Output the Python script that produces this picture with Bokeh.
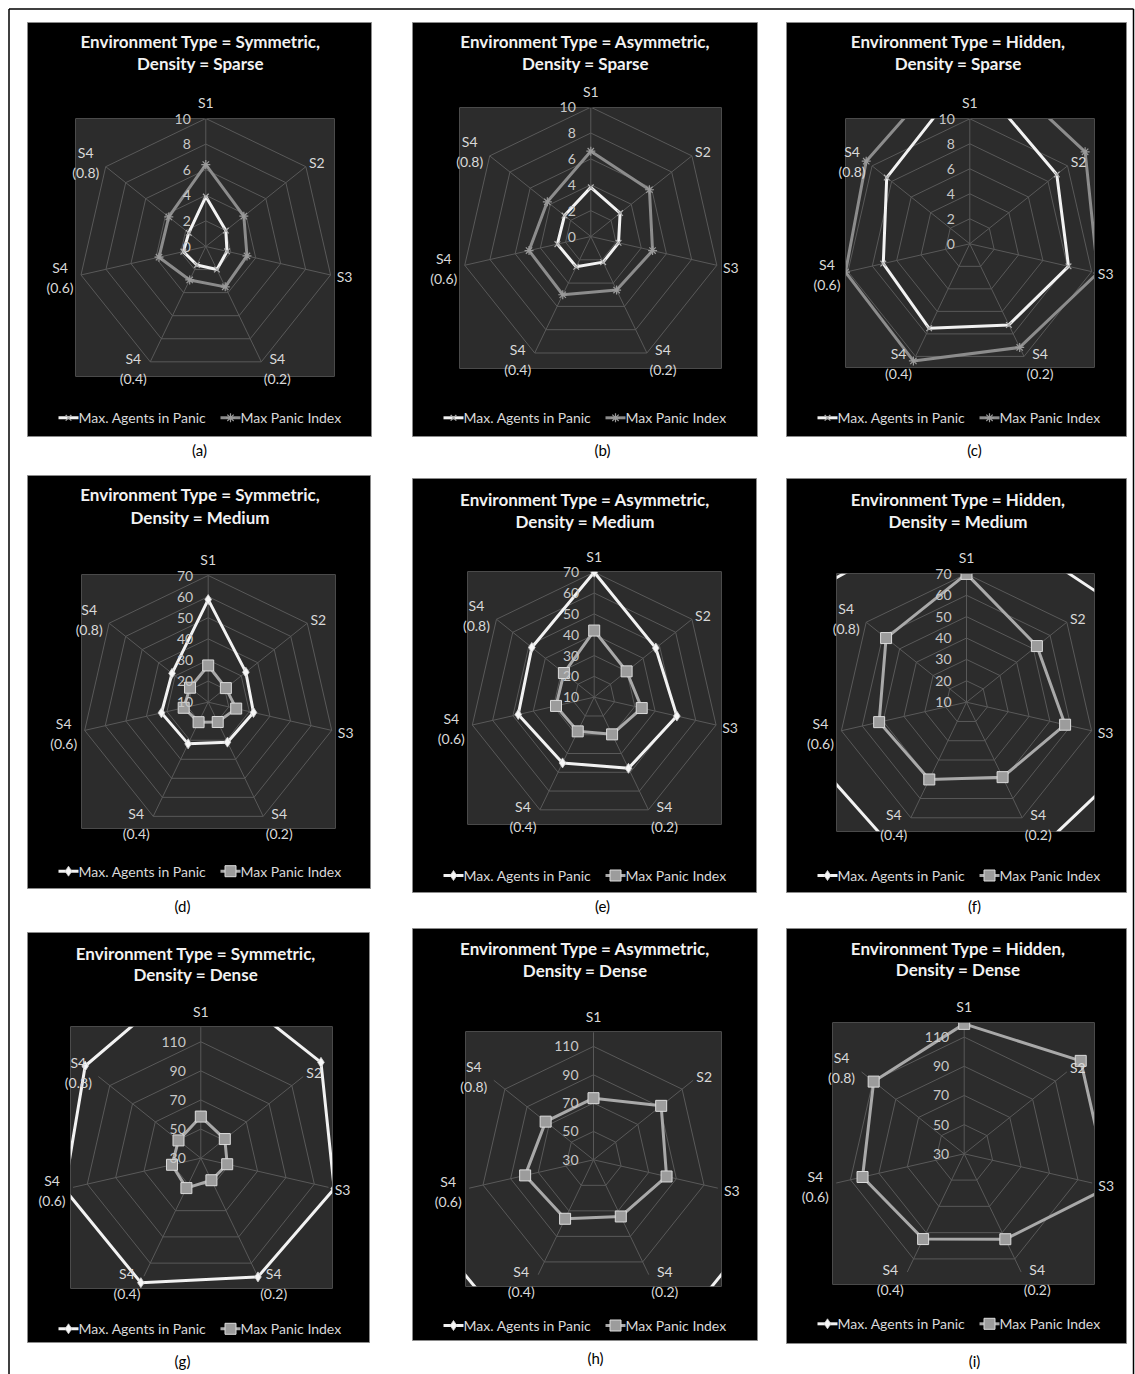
import math
from bokeh.plotting import figure
from bokeh.models import Range1d
from bokeh.core.properties import value
from bokeh.embed import file_html
from bokeh.resources import INLINE

# ---------------- data ----------------
categories_top = ["S1", "S2", "S3", "S4", "S4", "S4", "S4"]
categories_bottom = ["", "", "", "(0.2)", "(0.4)", "(0.6)", "(0.8)"]
environment_types = ["Symmetric", "Asymmetric", "Hidden"]
densities = ["Sparse", "Medium", "Dense"]
series_names = ["Max. Agents in Panic", "Max Panic Index"]
captions = ["(a)", "(b)", "(c)", "(d)", "(e)", "(f)", "(g)", "(h)", "(i)"]

# radial axis per density row
radial_min = [0, 10, 30]
radial_max = [10, 70, 120]
radial_step = [2, 10, 20]

agents_symmetric_sparse = [3.9, 2.0, 1.7, 2.0, 1.6, 1.8, 1.7]
panic_symmetric_sparse = [6.4, 3.8, 3.3, 3.5, 2.9, 3.75, 3.7]
agents_asymmetric_sparse = [3.8, 2.9, 2.2, 2.2, 2.6, 2.65, 2.6]
panic_asymmetric_sparse = [6.6, 5.8, 4.9, 4.6, 5.0, 4.9, 4.3]
agents_hidden_sparse = [13.75, 8.9, 8.1, 7.2, 7.5, 7.1, 8.5]
panic_hidden_sparse = [16.0, 11.8, 10.5, 9.2, 10.4, 10.2, 10.6]

agents_symmetric_medium = [58.6, 32.8, 32.0, 31.0, 31.9, 32.7, 31.9]
panic_symmetric_medium = [27.4, 20.7, 23.6, 20.4, 20.5, 21.9, 21.0]
agents_asymmetric_medium = [70.0, 47.8, 50.7, 47.9, 45.0, 47.4, 48.3]
panic_asymmetric_medium = [42.0, 29.9, 33.4, 29.8, 28.2, 28.8, 28.6]
agents_hidden_medium = [102.0, 90.5, 98.0, 87.0, 87.0, 91.0, 97.0]
panic_hidden_medium = [70.0, 52.1, 57.3, 48.9, 50.1, 51.9, 58.1]

agents_symmetric_dense = [161.0, 135.6, 124.0, 120.5, 124.9, 126.0, 131.6]
panic_symmetric_dense = [58.6, 51.1, 48.6, 46.8, 52.8, 50.3, 49.6]
agents_asymmetric_dense = [175.0, 172.0, 165.0, 164.0, 164.0, 166.0, 172.0]
panic_asymmetric_dense = [73.5, 91.1, 82.9, 74.4, 76.2, 79.5, 73.2]
agents_hidden_dense = [190.0, 185.0, 182.0, 180.0, 180.0, 183.0, 186.0]
panic_hidden_dense = [119.1, 132.2, 132.0, 95.0, 94.9, 101.5, 109.4]

agents = [agents_symmetric_sparse, agents_asymmetric_sparse, agents_hidden_sparse,
          agents_symmetric_medium, agents_asymmetric_medium, agents_hidden_medium,
          agents_symmetric_dense, agents_asymmetric_dense, agents_hidden_dense]
panic = [panic_symmetric_sparse, panic_asymmetric_sparse, panic_hidden_sparse,
         panic_symmetric_medium, panic_asymmetric_medium, panic_hidden_medium,
         panic_symmetric_dense, panic_asymmetric_dense, panic_hidden_dense]

# ---------------- layout (page pixels) ----------------
panel_box = [(27, 371, 22, 436), (412, 757, 22, 436), (786, 1126, 22, 436),
             (27, 370, 475, 888), (412, 756, 478, 892), (786, 1126, 478, 892),
             (27, 369, 932, 1342), (412, 757, 928, 1340), (786, 1126, 928, 1343)]
plot_box = [(75, 334, 118, 376), (459, 721, 107, 368), (845, 1094, 118, 367),
            (81, 335, 574, 828), (467, 721, 571, 824), (836, 1094, 573, 831),
            (70, 332, 1026, 1288), (465, 721, 1031, 1286), (832, 1094, 1022, 1284)]
radar_geom = [(205.3, 246.0, 128.0), (590.3, 236.0, 129.3), (969.3, 243.3, 125.0),
              (207.7, 701.7, 126.7), (593.7, 696.7, 125.0), (966.0, 701.7, 128.3),
              (200.3, 1157.7, 131.0), (593.0, 1159.3, 127.5), (963.7, 1153.3, 131.25)]
title_x = [200, 585, 957.7, 199.7, 584.7, 957.7, 195.3, 584.7, 957.7]
title_y = [(41, 63), (41, 63.3), (41, 63.3), (494.3, 516.7), (499, 520.7), (499, 520.7),
           (952.7, 974.3), (948.3, 970), (948.3, 969.3)]
legend_y = [417.3, 417.3, 417.3, 870.7, 875, 875, 1328.3, 1325, 1323.3]
caption_xy = [(199, 449), (602, 449), (974, 449), (182, 905), (602, 905), (974, 905),
              (182, 1360), (595, 1357), (974, 1360)]
label_offset = [(0, -16), (11, -4), (14, 2), (16, 7), (-17, 7), (-21, 3), (-20, -4)]

FONT = value("Lato")
PLOT_BG = "#2c2c2c"
GRID = "#595959"
WHITE_S = "#f2f2f2"
GRAY_S = "#8c8c8c"
GRAY_S2 = "#a9a9a9"

N = len(categories_top)
W, H = 1135, 1374


def to_xy(geom, vmin, vmax, vals):
    cx, cy, R = geom
    xs, ys = [], []
    for k, v in enumerate(vals):
        th = 2 * math.pi * k / N
        r = (v - vmin) / (vmax - vmin) * R
        xs.append(cx + r * math.sin(th))
        ys.append(cy - r * math.cos(th))
    return xs, ys


p = figure(width=W, height=H, x_range=Range1d(0, W), y_range=Range1d(H, 0),
           x_axis_type=None, y_axis_type=None, output_backend="svg", toolbar_location=None,
           min_border=0, background_fill_color="white", border_fill_color="white",
           outline_line_color=None)

# plot areas
p.quad(left=[b[0] for b in plot_box], right=[b[1] for b in plot_box],
       top=[b[2] for b in plot_box], bottom=[b[3] for b in plot_box],
       fill_color=PLOT_BG, line_color=None)

ring_xs, ring_ys, spoke_xs, spoke_ys = [], [], [], []
tick_x, tick_y, tick_t = [], [], []
for i in range(9):
    row = i // 3
    vmin, vmax, step = radial_min[row], radial_max[row], radial_step[row]
    cx, cy, R = radar_geom[i]
    v = vmin
    while v <= vmax + 1e-9:
        if v > vmin:
            xs, ys = to_xy(radar_geom[i], vmin, vmax, [v] * N)
            ring_xs.append(xs + [xs[0]])
            ring_ys.append(ys + [ys[0]])
        tx, ty = to_xy(radar_geom[i], vmin, vmax, [v])
        tick_x.append(tx[0] - 15)
        tick_y.append(ty[0])
        tick_t.append(str(v))
        v += step
    ox, oy = to_xy(radar_geom[i], vmin, vmax, [vmax] * N)
    for k in range(N):
        spoke_xs.append([cx, ox[k]])
        spoke_ys.append([cy, oy[k]])

p.multi_line(ring_xs, ring_ys, line_color=GRID, line_width=1)
p.multi_line(spoke_xs, spoke_ys, line_color=GRID, line_width=1)

# series
for i in range(9):
    row = i // 3
    vmin, vmax = radial_min[row], radial_max[row]
    ax, ay = to_xy(radar_geom[i], vmin, vmax, agents[i])
    px, py = to_xy(radar_geom[i], vmin, vmax, panic[i])
    if row == 0:
        p.line(px + [px[0]], py + [py[0]], line_color=GRAY_S, line_width=3)
        p.scatter(px, py, marker="asterisk", size=9, line_color="#9a9a9a", line_width=1.2)
        p.line(ax + [ax[0]], ay + [ay[0]], line_color=WHITE_S, line_width=3)
        p.scatter(ax, ay, marker="x", size=8, line_color="#b0b0b0", line_width=1.2)
    else:
        p.line(px + [px[0]], py + [py[0]], line_color=GRAY_S2, line_width=3)
        p.scatter(px, py, marker="square", size=11, fill_color="#9c9c9c",
                  line_color="#dcdcdc", line_width=1)
        p.line(ax + [ax[0]], ay + [ay[0]], line_color=WHITE_S, line_width=3)
        p.scatter(ax, ay, marker="diamond", size=10, fill_color="#f7f7f7",
                  line_color="#cfcfcf", line_width=0.8)


def rect_ring(b, cw=True):
    l, r, t, bo = b
    if cw:
        return [l, r, r, l], [t, t, bo, bo]
    return [l, l, r, r], [t, bo, bo, t]


# masks: page (white) with panel holes, panels (black) with plot-area holes
page_x, page_y = rect_ring((-5, W + 5, -5, H + 5))
mx, my = [page_x], [page_y]
for b in panel_box:
    hx, hy = rect_ring(b, cw=False)
    mx.append(hx)
    my.append(hy)
p.multi_polygons(xs=[[mx]], ys=[[my]], fill_color="white", line_color=None)

pxs, pys = [], []
for b, q in zip(panel_box, plot_box):
    ex, ey = rect_ring(b)
    hx, hy = rect_ring(q, cw=False)
    pxs.append([[ex, hx]])
    pys.append([[ey, hy]])
p.multi_polygons(xs=pxs, ys=pys, fill_color="black", line_color=None)

p.quad(left=[b[0] for b in panel_box], right=[b[1] for b in panel_box],
       top=[b[2] for b in panel_box], bottom=[b[3] for b in panel_box],
       fill_color=None, line_color="#8a8a8a", line_width=1)

# radial tick labels (drawn above the masks so the top value is not cut)
p.text(tick_x, tick_y, text=tick_t, text_font=FONT, text_font_size="14px",
       text_color="#c8c8c8", text_align="right", text_baseline="middle")

# titles
t_x, t_y, t_t = [], [], []
for i in range(9):
    row, col = i // 3, i % 3
    t_x += [title_x[i], title_x[i]]
    t_y += [title_y[i][0], title_y[i][1]]
    t_t += ["Environment Type = %s," % environment_types[col], "Density = %s" % densities[row]]
p.text(t_x, t_y, text=t_t, text_font=FONT, text_font_style="bold", text_font_size="17px",
       text_color="#f2f2f2", text_align="center", text_baseline="middle")

# category labels
c_x, c_y, c_t = [], [], []
for i in range(9):
    row = i // 3
    vmin, vmax = radial_min[row], radial_max[row]
    ox, oy = to_xy(radar_geom[i], vmin, vmax, [vmax] * N)
    for k in range(N):
        lx = ox[k] + label_offset[k][0]
        ly = oy[k] + label_offset[k][1]
        if categories_bottom[k]:
            c_x += [lx, lx]
            c_y += [ly - 10, ly + 10]
            c_t += [categories_top[k], categories_bottom[k]]
        else:
            c_x.append(lx)
            c_y.append(ly)
            c_t.append(categories_top[k])
p.text(c_x, c_y, text=c_t, text_font=FONT, text_font_size="14px", text_color="#d9d9d9",
       text_align="center", text_baseline="middle")

# legends
for i in range(9):
    row = i // 3
    left = panel_box[i][0]
    ly = legend_y[i]
    seg1 = (left + 31, left + 51)
    seg2 = (left + 193, left + 213)
    p.line([seg1[0], seg1[1]], [ly, ly], line_color=WHITE_S, line_width=3)
    p.line([seg2[0], seg2[1]], [ly, ly], line_color=GRAY_S if row == 0 else GRAY_S2, line_width=3)
    if row == 0:
        p.scatter([(seg1[0] + seg1[1]) / 2], [ly], marker="x", size=8, line_color="#b0b0b0", line_width=1.2)
        p.scatter([(seg2[0] + seg2[1]) / 2], [ly], marker="asterisk", size=9, line_color="#9a9a9a", line_width=1.2)
    else:
        p.scatter([(seg1[0] + seg1[1]) / 2], [ly], marker="diamond", size=10, fill_color="#f7f7f7",
                  line_color="#cfcfcf", line_width=0.8)
        p.scatter([(seg2[0] + seg2[1]) / 2], [ly], marker="square", size=11, fill_color="#9c9c9c",
                  line_color="#dcdcdc", line_width=1)
    p.text([seg1[1], seg2[1]], [ly, ly], text=series_names, text_font=FONT, text_font_size="14px",
           text_color="#d9d9d9", text_align="left", text_baseline="middle")

# captions
p.text([c[0] for c in caption_xy], [c[1] for c in caption_xy], text=captions, text_font=FONT,
       text_font_size="15px", text_color="black", text_align="center", text_baseline="middle")

# page frame (left, top, right)
p.multi_line([[8.5, 8.5], [8.5, 1133], [1133, 1133]], [[H, 8.5], [8.5, 8.5], [8.5, H]],
             line_color="black", line_width=1.5)

open("out.html", "w").write(file_html(p, INLINE))
